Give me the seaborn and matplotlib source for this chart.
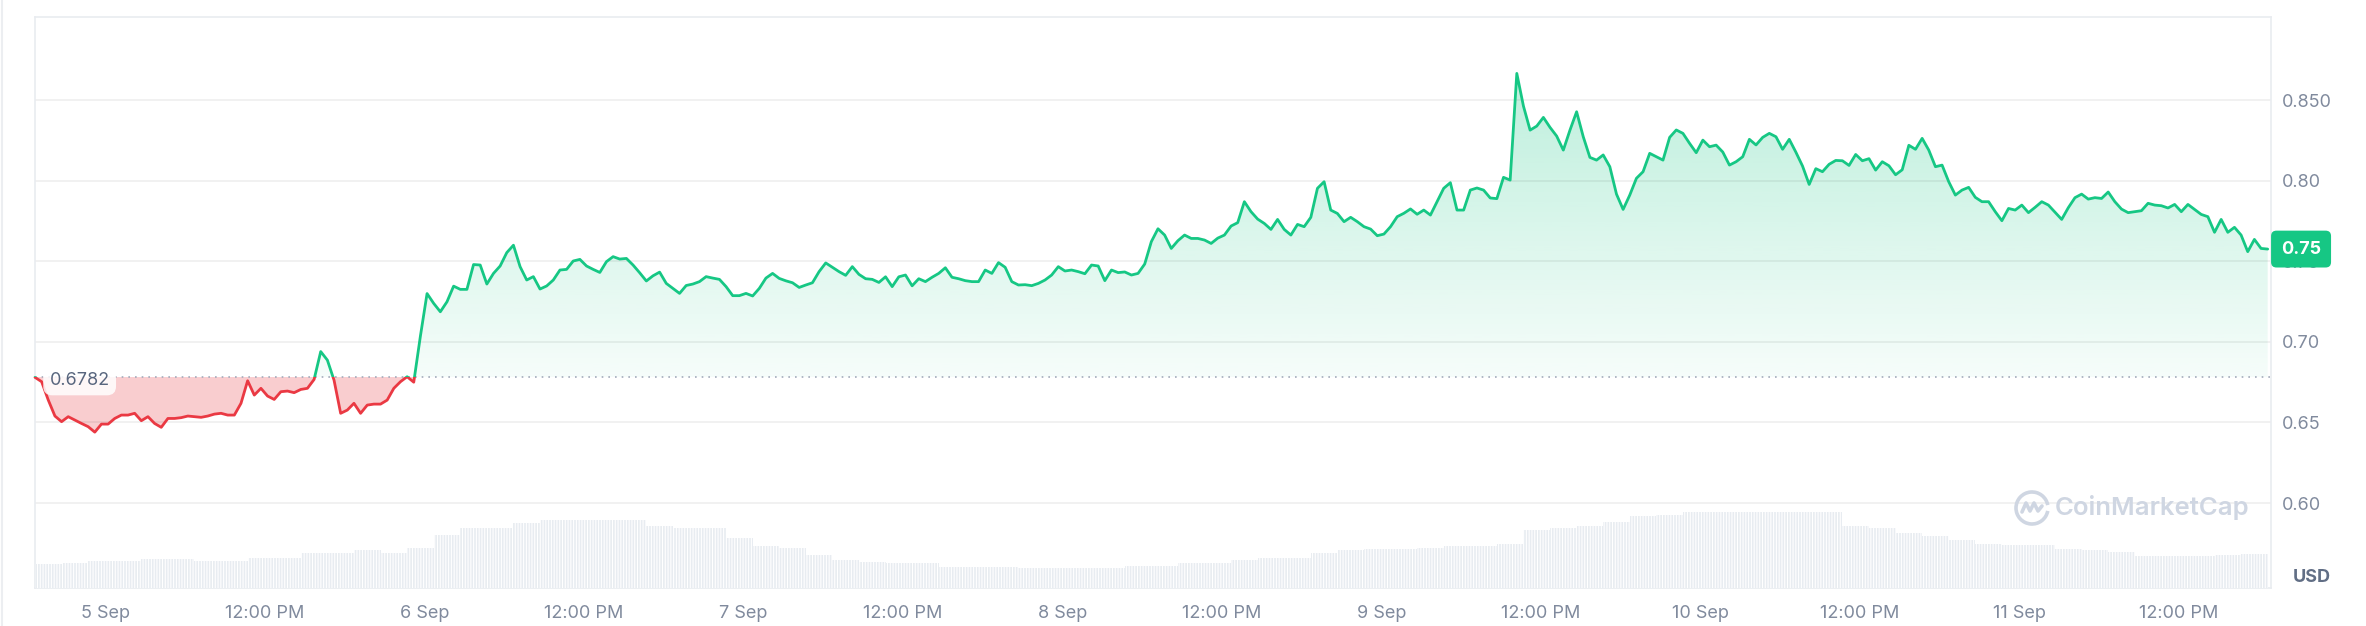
"""
Token price, last 7 days (CoinMarketCap style chart)
Price line coloured against the opening price, volume as faint bars underneath.
"""
import numpy as np
import pandas as pd
import matplotlib
matplotlib.use("Agg")
import matplotlib.pyplot as plt
import matplotlib.dates as mdates
import matplotlib.colors as mcolors
import seaborn as sns
from matplotlib.path import Path
from matplotlib.patches import Rectangle, Arc
from matplotlib.lines import Line2D

sns.set_theme(style="white")
plt.rcParams["font.family"] = ["Inter", "DejaVu Sans"]
plt.rcParams["hatch.linewidth"] = 0.8
plt.rcParams["hatch.color"] = "white"

GREEN = "#16c784"
RED = "#ea3943"
GREY_TXT = "#808a9d"

# ---------- data ----------
START = "2023-09-04 18:42"
OPEN_PRICE = 0.6782

# price, every 30 minutes
price = [
    0.6780, 0.6753, 0.6639, 0.6540, 0.6505, 0.6536, 0.6515, 0.6494, 0.6474, 0.6440,
    0.6490, 0.6490, 0.6525, 0.6546, 0.6546, 0.6557, 0.6511, 0.6536, 0.6494, 0.6470,
    0.6525, 0.6525, 0.6530, 0.6540, 0.6536, 0.6532, 0.6540, 0.6552, 0.6557, 0.6546,
    0.6546, 0.6619, 0.6759, 0.6670, 0.6712, 0.6664, 0.6643, 0.6691, 0.6695, 0.6685,
    0.6705, 0.6712, 0.6767, 0.6940, 0.6887, 0.6763, 0.6557, 0.6577, 0.6619, 0.6557,
    0.6608, 0.6614, 0.6614, 0.6639, 0.6712, 0.6753, 0.6784, 0.6750, 0.7036, 0.7300,
    0.7239, 0.7187, 0.7249, 0.7346, 0.7326, 0.7326, 0.7480, 0.7477, 0.7359, 0.7425,
    0.7471, 0.7554, 0.7600, 0.7467, 0.7384, 0.7405, 0.7328, 0.7347, 0.7384, 0.7446,
    0.7450, 0.7502, 0.7512, 0.7471, 0.7450, 0.7431, 0.7498, 0.7529, 0.7514, 0.7518,
    0.7477, 0.7429, 0.7378, 0.7410, 0.7433, 0.7363, 0.7332, 0.7301, 0.7350, 0.7359,
    0.7374, 0.7405, 0.7396, 0.7388, 0.7343, 0.7287, 0.7287, 0.7301, 0.7285, 0.7332,
    0.7396, 0.7425, 0.7394, 0.7379, 0.7367, 0.7338, 0.7353, 0.7367, 0.7436, 0.7490,
    0.7463, 0.7436, 0.7413, 0.7467, 0.7419, 0.7392, 0.7388, 0.7369, 0.7404, 0.7343,
    0.7404, 0.7415, 0.7348, 0.7392, 0.7374, 0.7401, 0.7425, 0.7460, 0.7401, 0.7392,
    0.7380, 0.7374, 0.7374, 0.7446, 0.7425, 0.7492, 0.7463, 0.7374, 0.7353, 0.7355,
    0.7349, 0.7363, 0.7384, 0.7415, 0.7467, 0.7440, 0.7446, 0.7436, 0.7423, 0.7477,
    0.7471, 0.7380, 0.7446, 0.7430, 0.7434, 0.7415, 0.7425, 0.7483, 0.7622, 0.7702,
    0.7663, 0.7580, 0.7628, 0.7663, 0.7642, 0.7642, 0.7632, 0.7611, 0.7644, 0.7663,
    0.7719, 0.7740, 0.7870, 0.7808, 0.7762, 0.7735, 0.7698, 0.7760, 0.7698, 0.7663,
    0.7729, 0.7715, 0.7773, 0.7953, 0.7994, 0.7818, 0.7797, 0.7746, 0.7773, 0.7746,
    0.7715, 0.7700, 0.7659, 0.7669, 0.7715, 0.7777, 0.7798, 0.7825, 0.7792, 0.7818,
    0.7787, 0.7870, 0.7953, 0.7988, 0.7818, 0.7818, 0.7942, 0.7955, 0.7942, 0.7893,
    0.7889, 0.8021, 0.8004, 0.8666, 0.8463, 0.8314, 0.8339, 0.8393, 0.8331, 0.8277,
    0.8190, 0.8314, 0.8428, 0.8273, 0.8145, 0.8128, 0.8160, 0.8087, 0.7917, 0.7822,
    0.7911, 0.8015, 0.8056, 0.8170, 0.8149, 0.8128, 0.8269, 0.8315, 0.8294, 0.8232,
    0.8174, 0.8252, 0.8211, 0.8221, 0.8178, 0.8097, 0.8118, 0.8149, 0.8257, 0.8222,
    0.8269, 0.8294, 0.8273, 0.8195, 0.8257, 0.8177, 0.8091, 0.7977, 0.8075, 0.8056,
    0.8102, 0.8126, 0.8124, 0.8095, 0.8163, 0.8124, 0.8137, 0.8066, 0.8118, 0.8093,
    0.8037, 0.8068, 0.8220, 0.8195, 0.8263, 0.8190, 0.8087, 0.8097, 0.7994, 0.7911,
    0.7942, 0.7959, 0.7897, 0.7870, 0.7870, 0.7808, 0.7752, 0.7828, 0.7818, 0.7849,
    0.7802, 0.7835, 0.7870, 0.7849, 0.7804, 0.7760, 0.7833, 0.7895, 0.7917, 0.7886,
    0.7895, 0.7890, 0.7930, 0.7870, 0.7824, 0.7802, 0.7808, 0.7814, 0.7860, 0.7849,
    0.7845, 0.7831, 0.7853, 0.7808, 0.7853, 0.7822, 0.7791, 0.7777, 0.7680, 0.7760,
    0.7680, 0.7711, 0.7663, 0.7560, 0.7636, 0.7580, 0.7576,
]

# 24h volume (millions USD, rough), every 2 hours
volume = [
    24, 25, 27, 27, 29, 29, 27, 27, 30, 30, 35, 35, 38, 35, 40, 53, 60, 60, 65, 68,
    68, 68, 68, 62, 60, 60, 50, 42, 40, 33, 28, 26, 25, 25, 21, 21, 21, 20, 20, 20,
    20, 22, 22, 25, 25, 28, 30, 30, 35, 38, 39, 39, 40, 42, 42, 44, 58, 60, 62, 66,
    72, 73, 76, 76, 76, 76, 76, 76, 62, 60, 55, 52, 48, 44, 43, 43, 39, 38, 36, 32,
    32, 32, 33, 34,
]

tick_times = pd.date_range("2023-09-05", periods=14, freq="12h")
tick_labels = ["5 Sep", "12:00 PM", "6 Sep", "12:00 PM", "7 Sep", "12:00 PM",
               "8 Sep", "12:00 PM", "9 Sep", "12:00 PM", "10 Sep", "12:00 PM",
               "11 Sep", "12:00 PM"]
y_ticks = [0.60, 0.65, 0.70, 0.75, 0.80, 0.85]
y_labels = ["0.60", "0.65", "0.70", "0.75", "0.80", "0.850"]

Y_LO, Y_HI = 0.5473, 0.9016

times = pd.date_range(START, periods=len(price), freq="30min")
vol_times = pd.date_range(START, periods=len(volume), freq="2h")
x = mdates.date2num(times)
xv = mdates.date2num(vol_times)
p = np.array(price)

# ---------- figure ----------
W, H = 2366, 626
fig = plt.figure(figsize=(W / 100, H / 100), dpi=100)
ax = fig.add_axes([35 / W, 38 / H, 2236 / W, 571 / H])

# volume underneath, on its own scale
ax2 = ax.twinx()
ax2.bar(xv, volume, width=2 / 24, align="edge", color="#e8ecf1",
        edgecolor="white", linewidth=0, hatch="||||||")
ax2.set_ylim(0, 571)
ax2.set_yticks([])
for s in ax2.spines.values():
    s.set_visible(False)

# fills against the opening price
up = ax.fill_between(x, p, OPEN_PRICE, where=p >= OPEN_PRICE, interpolate=True,
                     facecolor="none", linewidth=0)
grad = np.zeros((256, 1, 4))
grad[..., :3] = mcolors.to_rgb(GREEN)
grad[..., 3] = np.linspace(0.04, 0.33, 256)[:, None]
img = ax.imshow(grad, extent=[x[0], x[-1], OPEN_PRICE, Y_HI], origin="lower",
                aspect="auto", interpolation="bilinear", zorder=1)
img.set_clip_path(Path.make_compound_path(*up.get_paths()), transform=ax.transData)
ax.fill_between(x, p, OPEN_PRICE, where=p <= OPEN_PRICE, interpolate=True,
                color=RED, alpha=0.25, linewidth=0, zorder=1)

for v in y_ticks:
    ax.axhline(v, color="black", alpha=0.06, lw=1.3, zorder=2)
ax.axhline(OPEN_PRICE, color="#a3abbb", lw=1.2, ls=(0, (1, 3)), zorder=2.5)

# line: green above the opening price, red below
sns.lineplot(x=x, y=p, color=GREEN, linewidth=2, ax=ax, zorder=3)
ax.lines[-1].set_clip_path(Rectangle((x[0] - 1, OPEN_PRICE), 20, 1, transform=ax.transData))
sns.lineplot(x=x, y=p, color=RED, linewidth=2, ax=ax, zorder=3)
ax.lines[-1].set_clip_path(Rectangle((x[0] - 1, OPEN_PRICE - 1), 20, 1, transform=ax.transData))

ax.set_xlim(x[0], x[0] + 168.25 / 24)
ax.set_ylim(Y_LO, Y_HI)
ax.set_xticks(mdates.date2num(tick_times))
ax.set_xticklabels(tick_labels)
ax.set_yticks(y_ticks)
ax.set_yticklabels(y_labels)
ax.yaxis.tick_right()
ax.tick_params(axis="x", length=0, pad=12, labelsize=13, labelcolor=GREY_TXT)
ax.tick_params(axis="y", length=0, pad=8, labelsize=13, labelcolor=GREY_TXT)
ax.set_xlabel("")
ax.set_ylabel("")
for s in ax.spines.values():
    s.set_color("#e9ecf0")
    s.set_linewidth(1.2)

# labels
ax.annotate(f"{OPEN_PRICE:.4f}", xy=(0, OPEN_PRICE), xycoords=("axes fraction", "data"),
            xytext=(10.5, -2.5), textcoords="offset points", ha="left", va="center",
            size=13, color="#58667e", zorder=6,
            bbox=dict(boxstyle="round,pad=0.35,rounding_size=0.5", fc="white", ec="none", alpha=0.85))
last = int(p[-1] * 100) / 100
ax.annotate(f"{last:.2f}", xy=(1, p[-1]), xycoords=("axes fraction", "data"),
            xytext=(7.2, 0), textcoords="offset points", ha="left", va="center",
            size=13, weight="bold", color="white", annotation_clip=False, zorder=10,
            bbox=dict(boxstyle="round,pad=0.55,rounding_size=0.3", fc=GREEN, ec="none"))
fig.text(2312 / W, 1 - 578 / H, "USD", ha="center", va="center", size=13,
         weight="bold", color="#616e85")

# watermark
fig.text(2055 / W, 1 - 508 / H, "CoinMarketCap", ha="left", va="center", size=18.5,
         weight="semibold", color="#cfd6e2")
fig.add_artist(Arc((2032 / W, 1 - 508 / H), 32 / W, 32 / H, theta1=35, theta2=325,
                   transform=fig.transFigure, color="#cfd6e2", lw=2.6))
wave = np.array([[-10, 4], [-6, -5], [-2, 3], [2, -5], [6, 3], [10, -2]])
fig.add_artist(Line2D((2032 + wave[:, 0]) / W, 1 - (508 + wave[:, 1]) / H,
                      transform=fig.transFigure, color="#cfd6e2", lw=2.6))

fig.add_artist(Line2D([2 / W, 2 / W], [0, 1], transform=fig.transFigure,
                      color="#eceef1", lw=1.5))

fig.savefig("out.png", dpi=100)
plt.close(fig)
